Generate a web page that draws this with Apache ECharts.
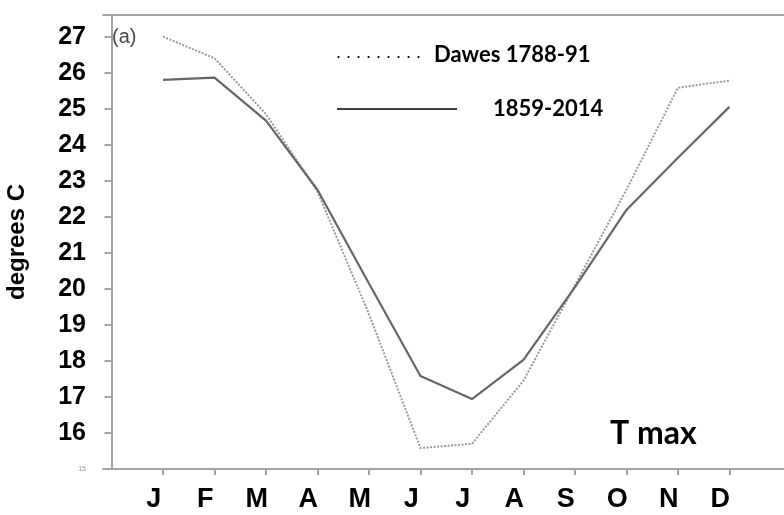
<!DOCTYPE html>
<html>
<head>
<meta charset="utf-8">
<script src="https://cdn.jsdelivr.net/npm/echarts@6/dist/echarts.min.js"></script>
<style>
  html, body { margin: 0; padding: 0; background: #fff; }
  #main { width: 784px; height: 515px; }
</style>
</head>
<body>
<div id="main"></div>
<script>
// month positions on the x value axis, and their labels
const months = [1, 2, 3, 4, 5, 6, 7, 8, 9, 10, 11, 12];
const monthLabels = ['J', 'F', 'M', 'A', 'M', 'J', 'J', 'A', 'S', 'O', 'N', 'D'];
const yTicks = [15, 16, 17, 18, 19, 20, 21, 22, 23, 24, 25, 26, 27];

// T max, degrees C
const dawes = [27.0, 26.4, 24.85, 22.7, 19.3, 15.58, 15.7, 17.45, 20.1, 22.75, 25.58, 25.78];
const modern = [25.8, 25.86, 24.67, 22.75, 20.15, 17.58, 16.94, 18.03, 20.05, 22.19, 23.64, 25.05];

const toPairs = (vals) => months.map((m, i) => [m, vals[i]]);

var chartDom = document.getElementById('main');
var myChart = echarts.init(chartDom);
var axisGrey = '#a3a3a3';

var option = {
    animation: false,
    grid: { left: 103, top: 15, right: 0, bottom: 46, outerBoundsMode: 'none', containLabel: false },
    xAxis: [
        {
            type: 'value',
            min: -0.165,
            max: 13.06,
            splitLine: { show: false },
            axisLine: { show: true, lineStyle: { color: axisGrey, width: 2 } },
            axisTick: {
                show: true, length: 6, inside: false,
                customValues: months,
                lineStyle: { color: axisGrey, width: 2 }
            },
            axisLabel: {
                customValues: months.map(m => m - 0.18),
                formatter: (v) => monthLabels[Math.round(v + 0.18) - 1] || '',
                margin: 17,
                color: '#000',
                fontFamily: 'Liberation Sans',
                fontWeight: 'bold',
                fontSize: 27
            }
        },
        {
            // top frame line
            type: 'value',
            position: 'top',
            min: -0.165,
            max: 13.06,
            splitLine: { show: false },
            axisLine: { show: true, lineStyle: { color: axisGrey, width: 2 } },
            axisTick: { show: false },
            axisLabel: { show: false }
        }
    ],
    yAxis: {
        type: 'value',
        min: 15,
        max: 27.6,
        name: 'degrees C',
        nameLocation: 'middle',
        nameRotate: 90,
        nameGap: 74,
        nameTextStyle: {
            color: '#000',
            fontFamily: 'Liberation Sans',
            fontWeight: 'bold',
            fontSize: 24
        },
        splitLine: { show: false },
        axisLine: { show: true, lineStyle: { color: axisGrey, width: 2 } },
        axisTick: {
            show: true, length: 7,
            customValues: yTicks,
            lineStyle: { color: axisGrey, width: 2 }
        },
        axisLabel: {
            customValues: yTicks,
            margin: 17,
            color: '#000',
            fontFamily: 'Liberation Sans',
            fontWeight: 'bold',
            fontSize: 25,
            formatter: (v) => v === 15 ? '{s|15}' : String(v),
            rich: {
                s: { fontSize: 7, color: '#999', fontWeight: 'normal', fontFamily: 'Liberation Sans' }
            }
        }
    },
    series: [
        {
            name: 'Dawes 1788-91',
            type: 'line',
            data: toPairs(dawes),
            showSymbol: false,
            lineStyle: { color: '#9a9a9a', width: 2, type: [2, 1.5] }
        },
        {
            name: '1859-2014',
            type: 'line',
            data: toPairs(modern),
            showSymbol: false,
            lineStyle: { color: '#666', width: 2.2 }
        }
    ],
    graphic: [
        {
            type: 'text', left: 112, top: 27,
            style: { text: '(a)', fill: '#4a4a4a', font: '20px "Liberation Sans"' }
        },
        {
            type: 'text', left: 336, top: 44,
            style: { text: '. . . . . . . . .', fill: '#000', font: '18px "Liberation Sans"' }
        },
        {
            type: 'text', left: 434, top: 44,
            style: { text: 'Dawes 1788-91', fill: '#000', font: 'bold 22px Lato' }
        },
        {
            type: 'line',
            shape: { x1: 337, y1: 109, x2: 457, y2: 109 },
            style: { stroke: '#000', lineWidth: 1.5 }
        },
        {
            type: 'text', left: 493, top: 98,
            style: { text: '1859-2014', fill: '#000', font: 'bold 22px Lato' }
        },
        {
            type: 'text', left: 610, top: 418,
            style: { text: 'T max', fill: '#000', font: 'bold 32px Lato' }
        }
    ]
};

myChart.setOption(option);
</script>
</body>
</html>
